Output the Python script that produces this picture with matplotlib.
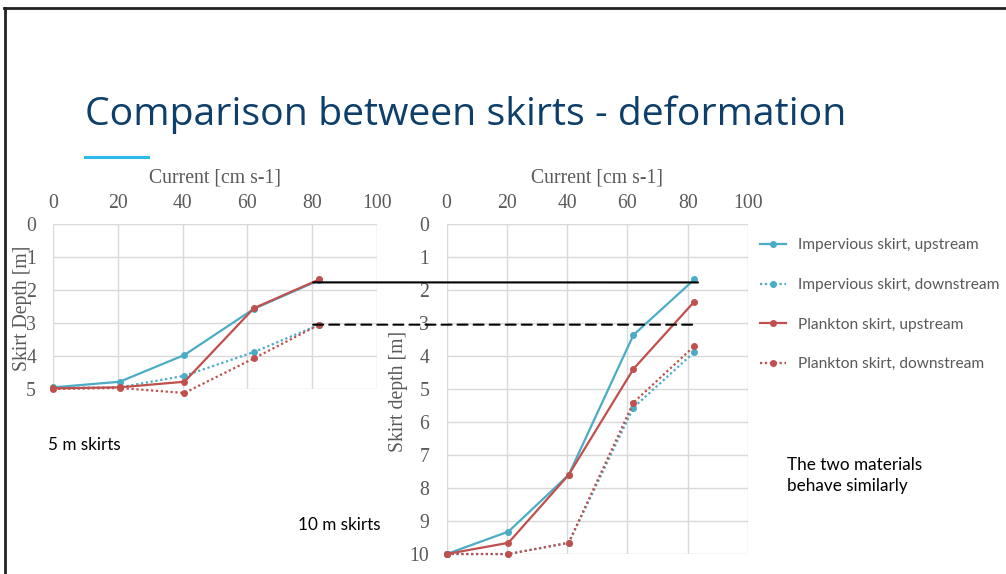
import matplotlib.pyplot as plt
from matplotlib.lines import Line2D
from matplotlib.patches import ConnectionPatch

# current speed [cm s-1] at which the skirts were tested
current = [0, 20.5, 40.5, 62, 82.2]

# 5 m skirts, depth of skirt bottom [m]
imp_up_5 = [4.95, 4.78, 3.97, 2.57, 1.70]
imp_down_5 = [4.97, 4.95, 4.60, 3.88, 3.05]
pl_up_5 = [4.98, 4.95, 4.78, 2.55, 1.68]
pl_down_5 = [5.00, 4.97, 5.12, 4.07, 3.05]

# 10 m skirts
imp_up_10 = [10.0, 9.32, 7.60, 3.36, 1.68]
imp_down_10 = [10.0, 10.0, 9.66, 5.56, 3.88]
pl_up_10 = [10.0, 9.66, 7.60, 4.39, 2.35]
pl_down_10 = [10.0, 10.0, 9.66, 5.41, 3.70]

labels = ['Impervious skirt, upstream', 'Impervious skirt, downstream',
          'Plankton skirt, upstream', 'Plankton skirt, downstream']

# depths carried over from the 5 m chart to the 10 m chart
ref_depths = [1.77, 3.05]
ref_from = 80.3
ref_to = 83.4

BLUE = '#4BACC6'
RED = '#C0504D'
GRID = '#D9D9D9'
TXT = '#595959'
SERIF = 'Liberation Serif'
SANS = 'Lato'
FS = 14.2

styles = [(BLUE, '-'), (BLUE, (0, (1, 1.2))), (RED, '-'), (RED, (0, (1, 1.2)))]

fig = plt.figure(figsize=(10.06, 5.74), dpi=100)


def setup(ax, ymax, ylabel, ylab_xy):
    ax.set_xlim(0, 100)
    ax.set_ylim(ymax, 0)
    ax.set_xticks(range(0, 101, 20))
    ax.set_yticks(range(0, ymax + 1))
    ax.xaxis.tick_top()
    ax.xaxis.set_label_position('top')
    ax.tick_params(length=0, pad=12.5, labelsize=FS, labelcolor=TXT)
    ax.tick_params(axis='x', pad=8)
    for t in ax.get_xticklabels() + ax.get_yticklabels():
        t.set_fontfamily(SERIF)
    ax.grid(True, color=GRID, lw=1)
    ax.set_axisbelow(True)
    for s in ax.spines.values():
        s.set_visible(False)
    ax.set_xlabel('Current [cm s-1]', fontfamily=SERIF, fontsize=FS,
                  color=TXT, labelpad=8.3)
    ax.set_ylabel(ylabel, fontfamily=SERIF, fontsize=FS, color=TXT)
    ax.yaxis.set_label_coords(*ylab_xy)


def draw(ax, series):
    handles = []
    for ys, (c, ls), lab in zip(series, styles, labels):
        h, = ax.plot(current, ys, color=c, ls=ls, lw=1.6, marker='o',
                     ms=4, clip_on=False, label=lab)
        handles.append(h)
    return handles


ax1 = fig.add_axes([0.053, 0.3223, 0.3217, 0.2875])
setup(ax1, 5, 'Skirt Depth [m]', (-0.066, 0.49))
draw(ax1, [imp_up_5, imp_down_5, pl_up_5, pl_down_5])

ax2 = fig.add_axes([0.444, 0.0348, 0.2995, 0.5749])
setup(ax2, 10, 'Skirt depth [m]', (-0.129, 0.494))
handles = draw(ax2, [imp_up_10, imp_down_10, pl_up_10, pl_down_10])

# black guide lines between the two charts
for d, ls in zip(ref_depths, ['-', (0, (4.8, 2.9))]):
    con = ConnectionPatch(xyA=(ref_from, d), coordsA=ax1.transData,
                          xyB=(ref_to, d), coordsB=ax2.transData,
                          color='black', lw=1.5, ls=ls, zorder=5)
    fig.add_artist(con)

fig.legend(handles=handles, loc='upper left', bbox_to_anchor=(0.755, 0.5845),
           frameon=False, borderpad=0, borderaxespad=0, handlelength=1.73,
           handletextpad=0.77, labelspacing=1.64,
           prop={'family': SANS, 'size': 11.2}, labelcolor=TXT)

# slide title and text boxes
fig.text(0.0845, 0.783, 'Comparison between skirts - deformation',
         fontfamily='Open Sans', fontsize=28.3, color='#0E3F6B', va='baseline')
fig.add_artist(Line2D([0.0845, 0.147], [0.7265, 0.7265], color='#2DBBE9', lw=2.2))
fig.text(0.048, 0.2247, '5 m skirts', fontfamily=SANS, fontsize=12.3,
         color='black', va='center')
fig.text(0.296, 0.0854, '10 m skirts', fontfamily=SANS, fontsize=12.3,
         color='black', va='center')
fig.text(0.782, 0.1716, 'The two materials\nbehave similarly', fontfamily=SANS,
         fontsize=12.3, color='black', va='center', linespacing=1.4)

# slide frame
fig.add_artist(Line2D([0.004, 1.0], [0.986, 0.986], color='#222222', lw=2))
fig.add_artist(Line2D([0.005, 0.005], [0.0, 0.986], color='#222222', lw=2))

fig.savefig('out.png', dpi=100)
